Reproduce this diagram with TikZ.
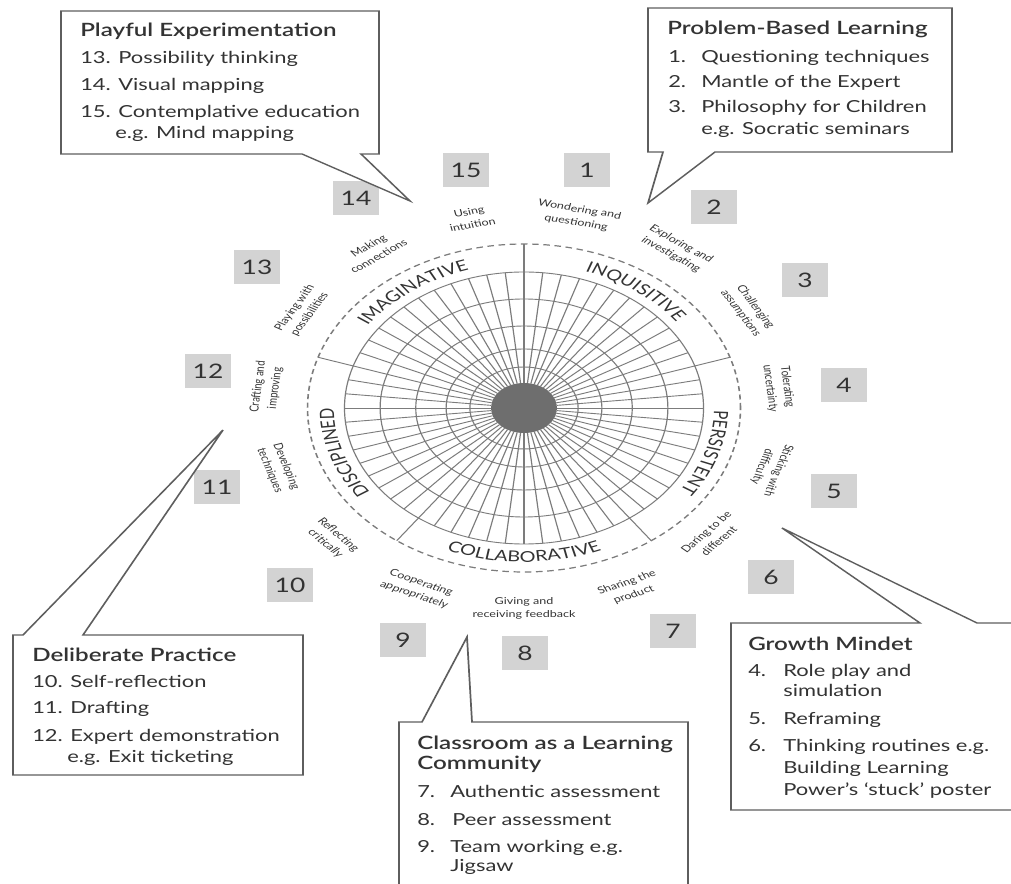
\documentclass[tikz,border=0pt]{standalone}
\usepackage{fontspec}
\setmainfont{Lato}
\newfontfamily\titleface{Lato Semibold}
\usetikzlibrary{decorations.text}

\definecolor{ink}{HTML}{333333}
\definecolor{rulegray}{HTML}{5E5E5E}
\definecolor{gridgray}{HTML}{7C7C7C}
\definecolor{chipgray}{HTML}{D3D3D3}
\definecolor{hubgray}{HTML}{6E6E6E}

\newcommand\wheelcapsfont{\fontsize{15}{15}\selectfont}

\tikzset{
  callout/.style={draw=rulegray, line width=1.3pt, fill=white, line join=miter},
  calltext/.style={anchor=base west, inner sep=0pt, text=ink, font=\fontsize{16.6}{20}\selectfont},
  calltitle/.style={calltext, font=\titleface\fontsize{18.3}{20}\selectfont},
  chip/.style={fill=chipgray, minimum width=35pt, minimum height=34pt, inner sep=0pt, text=ink, font=\fontsize{20}{22}\selectfont},
  habit/.style={align=center, inner sep=0pt, text=ink, font=\fontsize{9.5}{13}\selectfont},
  gridline/.style={draw=gridgray, line width=0.9pt},
  ringdash/.style={draw=gridgray, line width=1.2pt, dash pattern=on 5pt off 3.5pt},
}

\begin{document}
\begin{tikzpicture}[x=1pt,y=1pt]
\useasboundingbox (0,0) rectangle (1011,883);
\fill[white] (0,0) rectangle (1011,883);
\clip (0,0) rectangle (1011,883);
% the whole figure is set in a frame that is widened by 1.32 horizontally
\begin{scope}[transform canvas={xscale=1.32}]
\begin{scope}[x={(0.757576pt,0pt)}, y={(0pt,-1pt)}, yshift=883pt]

% ---------------- the wheel ----------------
\begin{scope}[shift={(524,408)}]
  \foreach \r in {136,109,82,59,41} \draw[gridline] (0,0) circle[radius=\r pt];
  \foreach \a in {0,6,...,354} \draw[gridline] (\a:25pt) -- (\a:136pt);
  \foreach \a in {90,18,-54,-126,162} \draw[gridline] (\a:136pt) -- (\a:164pt);
  \draw[ringdash] (0,0) circle[radius=164pt];
  \fill[hubgray] (0,0) circle[radius=25pt];

  % dimension names along the rim
  \path[decorate, decoration={text along path, text align=center,
        text={|\wheelcapsfont\color{ink}|IMAGINATIVE}}]
        (162:144pt) arc[start angle=162, end angle=90, radius=144pt];
  \path[decorate, decoration={text along path, text align=center,
        text={|\wheelcapsfont\color{ink}|INQUISITIVE}}]
        (90:144pt) arc[start angle=90, end angle=18, radius=144pt];
  \path[decorate, decoration={text along path, text align=center,
        text={|\wheelcapsfont\color{ink}|PERSISTENT}}]
        (18:144pt) arc[start angle=18, end angle=-54, radius=144pt];
  \path[decorate, decoration={text along path, text align=center,
        text={|\wheelcapsfont\color{ink}|COLLABORATIVE}}]
        (-126:154pt) arc[start angle=-126, end angle=-54, radius=154pt];
  \path[decorate, decoration={text along path, text align=center,
        text={|\wheelcapsfont\color{ink}|DISCIPLINED}}]
        (234:144pt) arc[start angle=234, end angle=162, radius=144pt];

  % habits
  \node[habit, rotate=-12]  (h1)  at (78:196pt)   {Wondering and\\questioning};
  \node[habit, rotate=-36]  (h2)  at (54:196pt)   {Exploring and\\investigating};
  \node[habit, rotate=-60]  (h3)  at (30:196pt)   {Challenging\\assumptions};
  \node[habit, rotate=-84]  (h4)  at (6:194pt)    {Tolerating\\uncertainty};
  \node[habit, rotate=-108] (h5)  at (-18:196pt)  {Sticking with\\difficulty};
  \node[habit, rotate=48]   (h6)  at (-42:192pt)  {Daring to be\\different};
  \node[habit, rotate=24]   (h7)  at (-66:198pt)  {Sharing the\\product};
  \node[habit]              (h8)  at (-90:200pt)  {Giving and\\receiving feedback};
  \node[habit, rotate=-24]  (h9)  at (-114:198pt) {Cooperating\\appropriately};
  \node[habit, rotate=-48]  (h10) at (-138:196pt) {Reflecting\\critically};
  \node[habit, rotate=-72]  (h11) at (-162:196pt) {Developing\\techniques};
  \node[habit, rotate=84]   (h12) at (174:196pt)  {Crafting and\\improving};
  \node[habit, rotate=60]   (h13) at (150:194pt)  {Playing with\\possibilities};
  \node[habit, rotate=36]   (h14) at (126:194pt)  {Making\\connections};
  \node[habit, rotate=12]   (h15) at (102:194pt)  {Using\\intuition};
\end{scope}

% ---------------- numbered chips ----------------
\node[chip] (n1)  at (587,170) {1};
\node[chip] (n2)  at (714,207) {2};
\node[chip] (n3)  at (805,280) {3};
\node[chip] (n4)  at (844,385) {4};
\node[chip] (n5)  at (834,491) {5};
\node[chip] (n6)  at (771,577) {6};
\node[chip] (n7)  at (673,631) {7};
\node[chip] (n8)  at (525,653) {8};
\node[chip] (n9)  at (403,640) {9};
\node[chip] (n10) at (290,585) {10};
\node[chip] (n11) at (217,487) {11};
\node[chip] (n12) at (208,371) {12};
\node[chip] (n13) at (257,267) {13};
\node[chip] (n14) at (356,198) {14};
\node[chip] (n15) at (466,170) {15};

% ---------------- callouts ----------------
% Playful Experimentation
\draw[callout] (61,11) -- (379,11) -- (379,154) -- (361,154) -- (410,201)
      -- (302,154) -- (61,154) -- cycle;
\node[calltitle] (pe0) at (80,37)  {Playful Experimentation};
\node[calltext]  (pe1) at (80,64)  {13. Possibility thinking};
\node[calltext]  (pe2) at (80,91)  {14. Visual mapping};
\node[calltext]  (pe3) at (80,118) {15. Contemplative education};
\node[calltext]  (pe4) at (115,139) {e.g. Mind mapping};

% Problem-Based Learning
\draw[callout] (648,8) -- (952,8) -- (952,152) -- (715,152) -- (648,203)
      -- (663,152) -- (648,152) -- cycle;
\node[calltitle] (pb0)  at (667,35)  {Problem-Based Learning};
\node[calltext]  (pb1n) at (668,63)  {1.};
\node[calltext]  (pb1)  at (701,63)  {Questioning techniques};
\node[calltext]  (pb2n) at (668,88)  {2.};
\node[calltext]  (pb2)  at (701,88)  {Mantle of the Expert};
\node[calltext]  (pb3n) at (668,113) {3.};
\node[calltext]  (pb3)  at (701,113) {Philosophy for Children};
\node[calltext]  (pb4)  at (701,135) {e.g. Socratic seminars};

% Deliberate Practice
\draw[callout] (13,635) -- (23,635) -- (223,430) -- (83,635) -- (303,635)
      -- (303,775) -- (13,775) -- cycle;
\node[calltitle] (dp0) at (32,662) {Deliberate Practice};
\node[calltext]  (dp1) at (32,688) {10. Self-reflection};
\node[calltext]  (dp2) at (32,714) {11. Drafting};
\node[calltext]  (dp3) at (32,742) {12. Expert demonstration};
\node[calltext]  (dp4) at (67,762) {e.g. Exit ticketing};

% Classroom as a Learning Community
\draw[callout] (399,900) -- (399,722) -- (422,722) -- (467,637) -- (472,722)
      -- (688,722) -- (688,900) -- cycle;
\node[calltitle] (cl0)  at (417,750) {Classroom as a Learning};
\node[calltitle] (cl0b) at (417,770) {Community};
\node[calltext]  (cl1n) at (417,798) {7.};
\node[calltext]  (cl1)  at (450,798) {Authentic assessment};
\node[calltext]  (cl2n) at (417,825) {8.};
\node[calltext]  (cl2)  at (452,825) {Peer assessment};
\node[calltext]  (cl3n) at (417,852) {9.};
\node[calltext]  (cl3)  at (450,852) {Team working e.g.};
\node[calltext]  (cl4)  at (450,871) {Jigsaw};

% Growth Mindet
\draw[callout] (731,623) -- (920,623) -- (782,528) -- (977,623) -- (1040,623)
      -- (1040,810) -- (731,810) -- cycle;
\node[calltitle] (gm0)  at (748,651) {Growth Mindet};
\node[calltext]  (gm1n) at (748,677) {4.};
\node[calltext]  (gm1)  at (783,677) {Role play and};
\node[calltext]  (gm1b) at (783,697) {simulation};
\node[calltext]  (gm2n) at (748,725) {5.};
\node[calltext]  (gm2)  at (783,725) {Reframing};
\node[calltext]  (gm3n) at (748,752) {6.};
\node[calltext]  (gm3)  at (783,752) {Thinking routines e.g.};
\node[calltext]  (gm3b) at (783,773) {Building Learning};
\node[calltext]  (gm3c) at (783,795) {Power's `stuck' poster};

\end{scope}
\end{scope}
\end{tikzpicture}
\end{document}
